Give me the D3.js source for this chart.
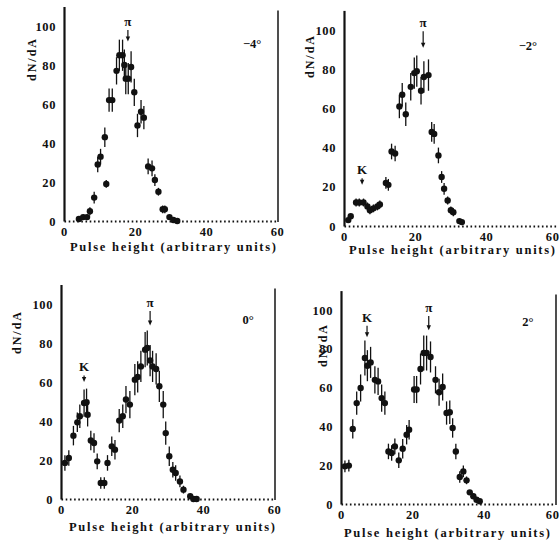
<!DOCTYPE html>
<html><head><meta charset="utf-8">
<script src="https://cdn.jsdelivr.net/npm/d3@7"></script>
<style>
html,body{margin:0;padding:0;background:#fff;}
svg{display:block;}
text{font-family:"Liberation Serif","DejaVu Serif",serif;font-weight:bold;fill:#111;}
</style></head>
<body><svg id="c" width="560" height="541"></svg>
<script>
// ---- data ----
const xTicks = [0, 20, 40, 60];
const yTicks = [0, 20, 40, 60, 80, 100];
const xTitle = "Pulse height (arbitrary units)";
const yTitle = "dN/dA";
const angles = ["\u22124\u00b0", "\u22122\u00b0", "0\u00b0", "2\u00b0"];

const p1X = [4.2,5.4,6.5,7.3,8.5,9.5,10.3,11.5,11.9,12.7,13.6,14.8,15.6,16.5,17.0,17.4,18.1,18.9,19.8,20.7,21.7,22.5,23.7,24.8,25.6,26.6,27.8,28.4,29.7,30.8,31.9];
const p1Y = [1,2,2,5,12,29,33,43,19,62,62,77,85,85,80,73,73,79,66,49,56,53,28,27,21,15,6,6,2,0.5,0];
const p1E = [1,1,1,2,3,4,4,5,2,6,6,7,8,8,8,8,8,8,7,6,6,6,4,4,3,2,2,2,1,0,0];

const p2X = [1.2,1.9,3.4,4.3,5.5,6.6,7.3,8.3,9.4,10.1,11.8,12.5,13.4,14.4,15.6,16.4,17.4,18.8,19.8,20.5,21.7,22.5,23.8,24.7,25.4,26.6,27.5,28.2,29.2,30.1,30.8,32.5,33.2];
const p2Y = [3,5,12,12,12,10,8,9,10,11,22,21,38,37,61,67,57,71,78,79,69,76,77,48,47,36,25,19,13,8,7,2.5,2];
const p2E = [1,1,2,2,2,2,2,2,2,2,3,3,4,4,6,6,6,7,8,8,7,8,8,5,5,4,3,3,2,2,2,1,1];

const p3X = [1.1,2.2,3.5,4.6,5.3,6.5,7.2,7.5,8.4,9.3,10.2,11.2,12.2,13.1,14.3,15.2,16.4,17.4,18.3,19.4,20.8,21.6,22.5,23.7,24.3,25.1,25.8,26.8,27.7,28.8,29.5,30.5,31.5,32.3,33.5,34.5,36.4,37.3,38.2];
const p3Y = [18.5,21,32.5,39.3,42.4,49.2,49.6,43.2,30,28.7,19.3,8.2,8.2,18.5,27,25.3,40.2,42.4,51,48.4,61.2,62.6,68,76.6,77.4,71,68,66.7,57.8,48.4,33.8,21.9,15,13.3,9,4.8,1.4,0,0];
const p3E = [4,4,5,5,6,7,7,6,5,5,4,3,3,4,5,5,6,6,7,7,8,8,8,9,9,8,8,8,8,7,6,5,4,4,3,2,1,0,0];

const p4X = [1.1,2.2,3.3,4.4,5.5,6.7,7.4,8.3,9.5,10.4,11.4,12.3,13.3,14.2,15.1,16.2,17.3,18.4,19.1,20.5,21.2,22.3,23.2,24.0,25.1,26.5,27.5,28.5,29.6,30.5,31.3,32.2,33.3,34.3,35.2,36.1,37.1,38.0,38.9];
const p4Y = [19.4,19.8,38.7,52,59.8,75.3,71.3,73,64,63.2,54.6,52,27.1,26.3,29.7,22.5,28.5,35.7,38.3,59,59,69.6,77.8,77.8,75.8,64,57.6,60.3,46.9,47.3,39.2,27.1,13.9,16.8,12.2,6,4,2.2,1.4];
const p4E = [3,3,5,6,7,9,8,8,7,7,7,6,4,4,4,4,5,5,5,7,7,8,9,9,8,7,7,7,6,6,5,4,3,3,2,1,1,0,0];

// peak markers: [panel, label, x, labelY, tipY]
const peakPanel = [0, 1, 1, 2, 2, 3, 3];
const peakText  = ["\u03c0", "\u03c0", "K", "\u03c0", "K", "\u03c0", "K"];
const peakX     = [18.0, 22.3, 5.1, 25.1, 6.5, 24.6, 7.3];
const peakLabY  = [102, 103.5, 28.5, 100.5, 67.5, 101, 96];
const peakTipY  = [92, 91, 21, 89, 60, 89.5, 86];

// angle label positions (data coords)
const angX = [53, 51.8, 52.7, 52.4];
const angY = [91, 92, 91.8, 94];

// ---- layout (pixels) ----
const layout = [
  {left:64,  right:277, bottom:221, k:1.95, yLabDx:-32, yLabCy:60,  xTitleY:247, xTitleCx:173, frame:true},
  {left:344, right:557, bottom:226, k:1.96, yLabDx:-34, yLabCy:57,  xTitleY:250, xTitleCx:452, frame:false},
  {left:61,  right:274, bottom:499, k:1.95, yLabDx:-44, yLabCy:333, xTitleY:527, xTitleCx:172, frame:true},
  {left:341, right:555, bottom:504, k:1.94, yLabDx:-18, yLabCy:346, xTitleY:533, xTitleCx:447, frame:true}
];
const series = [[p1X,p1Y,p1E],[p2X,p2Y,p2E],[p3X,p3Y,p3E],[p4X,p4Y,p4E]];

const svg = d3.select("#c");
svg.append("rect").attr("width",560).attr("height",541).attr("fill","#fff");

layout.forEach((L, i) => {
  const x = d3.scaleLinear().domain([0, 60]).range([L.left, L.right]);
  const y = d3.scaleLinear().domain([0, 110]).range([L.bottom, L.bottom - 110 * L.k]);
  const g = svg.append("g");

  // left axis (solid line + labels)
  const ya = g.append("g").attr("transform", `translate(${L.left},0)`)
    .call(d3.axisLeft(y).tickValues(yTicks).tickSize(0).tickPadding(8));
  ya.select(".domain").attr("stroke", "#111").attr("stroke-width", 2.2);
  ya.selectAll("text").style("font-size", "12.5px").style("font-family", "Liberation Serif")
    .style("font-weight", "bold").attr("fill", "#111").style("letter-spacing", "0.6px");

  // right frame line
  if (L.frame) {
    g.append("line").attr("x1", x(60) + 1).attr("x2", x(60) + 1)
      .attr("y1", y(0) + 1).attr("y2", y(108))
      .attr("stroke", "#222").attr("stroke-width", 1.6);
  }

  // bottom axis: dotted baseline + labels
  const xa = g.append("g").attr("transform", `translate(0,${L.bottom})`)
    .call(d3.axisBottom(x).tickValues(xTicks).tickSize(0).tickPadding(6));
  xa.select(".domain").attr("stroke", "#111").attr("stroke-width", 2)
    .attr("stroke-dasharray", "1.6,2.6");
  xa.selectAll("text").style("font-size", "12.5px").style("font-family", "Liberation Serif")
    .style("font-weight", "bold").attr("fill", "#111").style("letter-spacing", "0.6px");
  // keep the last tick label inside the page
  xa.selectAll(".tick").filter(d => x(d) + 8 > 560).select("text")
    .attr("text-anchor", "end").attr("x", d => 559 - x(d));

  // axis titles
  g.append("text").attr("x", L.xTitleCx).attr("y", L.xTitleY + 4)
    .attr("text-anchor", "middle").style("font-size", "12.5px")
    .attr("textLength", 206).attr("lengthAdjust", "spacing").text(xTitle);
  g.append("text")
    .attr("transform", `translate(${L.left + L.yLabDx + 4},${L.yLabCy}) rotate(-90)`)
    .attr("text-anchor", "middle").style("font-size", "12px")
    .attr("textLength", 42).attr("lengthAdjust", "spacing").text(yTitle);

  // angle label
  g.append("text").attr("x", x(angX[i])).attr("y", y(angY[i]) + 4)
    .attr("text-anchor", "middle").style("font-size", "12.5px").text(angles[i]);

  // data
  const [xs, ys, es] = series[i];
  const pts = xs.map((v, j) => ({x: v, y: ys[j], e: es[j]}));
  g.selectAll("line.err").data(pts.filter(d => d.e > 0)).enter().append("line")
    .attr("class", "err")
    .attr("x1", d => x(d.x)).attr("x2", d => x(d.x))
    .attr("y1", d => y(Math.max(0, d.y - d.e))).attr("y2", d => y(d.y + d.e))
    .attr("stroke", "#111").attr("stroke-width", 1.3);
  g.selectAll("circle").data(pts).enter().append("circle")
    .attr("cx", d => x(d.x)).attr("cy", d => y(d.y)).attr("r", 3.2).attr("fill", "#111");

  // peak labels with arrows
  peakPanel.forEach((p, j) => {
    if (p !== i) return;
    const px = x(peakX[j]);
    g.append("text").attr("x", px).attr("y", y(peakLabY[j]) + 4)
      .attr("text-anchor", "middle").style("font-size", "13px").text(peakText[j]);
    const y1 = y(peakLabY[j]) + 8, y2 = y(peakTipY[j]);
    g.append("line").attr("x1", px).attr("x2", px).attr("y1", y1).attr("y2", y2 - 3)
      .attr("stroke", "#111").attr("stroke-width", 1.2);
    g.append("path").attr("d", `M${px - 2.2},${y2 - 5}L${px + 2.2},${y2 - 5}L${px},${y2}Z`)
      .attr("fill", "#111");
  });
});
</script></body></html>
